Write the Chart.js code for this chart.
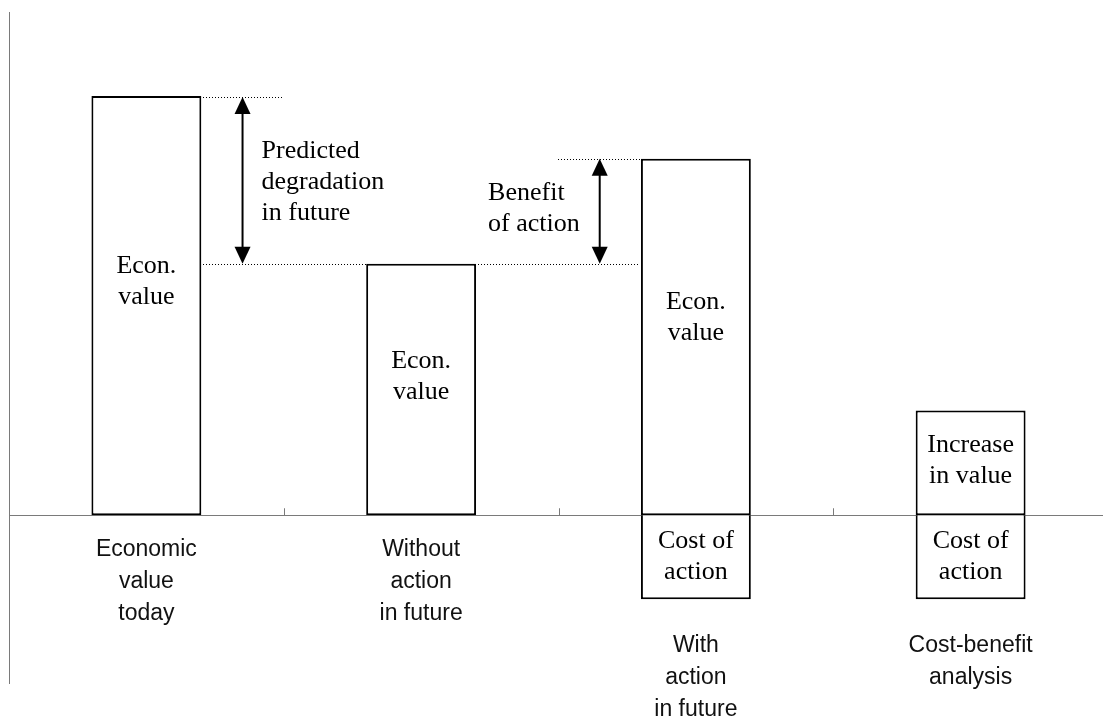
<!DOCTYPE html>
<html>
<head>
<meta charset="utf-8">
<script src="https://cdn.jsdelivr.net/npm/chart.js@4"></script>
<style>
  html, body { margin: 0; padding: 0; background: #fff; overflow: hidden; }
  #wrap { width: 1110px; height: 718px; position: relative; }
</style>
</head>
<body>
<div id="wrap"><canvas id="chart"></canvas></div>
<script>
// categories (blank lines push the last two labels below the cost boxes)
let categories = [
  ['Economic', 'value', 'today'],
  ['Without', 'action', 'in future'],
  ['', '', '', 'With', 'action', 'in future'],
  ['', '', '', 'Cost-benefit', 'analysis']
];

// series
let econValues = [10, 6, 8.5, 2.5];
let costValues = [null, null, -2, -2];

// text inside the boxes
let econText = [['Econ.', 'value'], ['Econ.', 'value'], ['Econ.', 'value'], ['Increase', 'in value']];
let costText = [null, null, ['Cost of', 'action'], ['Cost of', 'action']];

// annotation texts
let degradationText = ['Predicted', 'degradation', 'in future'];
let benefitText = ['Benefit', 'of action'];

let yMin = -4;
let yMax = 12;

const AXIS_GREY = '#7a7a7a';
const SERIF = '26px "Liberation Serif", "Times New Roman", serif';

//TEXT LINES, baselines spread around a centre
function drawLines(ctx, lines, x, mid, align) {
  ctx.textAlign = align;
  ctx.textBaseline = 'alphabetic';
  let n = lines.length;
  lines.forEach((line, i) => {
    ctx.fillText(line, x, mid + 6 + (i - (n - 1) / 2) * 31);
  });
}

//DOTTED LINE, one pixel dots
function dotted(ctx, x1, x2, y) {
  ctx.save();
  ctx.fillStyle = '#000';
  let py = Math.round(y);
  for (let px = Math.round(x1) + 2; px < x2 - 1; px += 3) {
    ctx.fillRect(px, py, 1, 1);
  }
  ctx.restore();
}

function arrow(ctx, x, yTop, yBot) {
  let head = 17, half = 8;
  ctx.save();
  ctx.strokeStyle = '#000';
  ctx.fillStyle = '#000';
  ctx.lineWidth = 2;
  ctx.beginPath();
  ctx.moveTo(x, yTop + head - 2);
  ctx.lineTo(x, yBot - head + 2);
  ctx.stroke();
  ctx.beginPath();
  ctx.moveTo(x, yTop);
  ctx.lineTo(x - half, yTop + head);
  ctx.lineTo(x + half, yTop + head);
  ctx.closePath();
  ctx.fill();
  ctx.beginPath();
  ctx.moveTo(x, yBot);
  ctx.lineTo(x - half, yBot - head);
  ctx.lineTo(x + half, yBot - head);
  ctx.closePath();
  ctx.fill();
  ctx.restore();
}

//EXTRAS: tick marks, box texts, arrows
const extras = {
  id: 'extras',
  afterDraw(chart) {
    let ctx = chart.ctx;
    let x = chart.scales.x;
    let y = chart.scales.y;
    let zero = y.getPixelForValue(0);
    let step = (x.right - x.left) / categories.length;

    // tick marks between categories, pointing up
    ctx.save();
    ctx.strokeStyle = AXIS_GREY;
    ctx.lineWidth = 1;
    for (let i = 0; i <= categories.length; i++) {
      let px = Math.round(x.left + i * step) + 0.5;
      ctx.beginPath();
      ctx.moveTo(px, zero - 7);
      ctx.lineTo(px, zero);
      ctx.stroke();
    }
    ctx.restore();

    let econBars = chart.getDatasetMeta(0).data;
    let costBars = chart.getDatasetMeta(1).data;

    ctx.save();
    ctx.fillStyle = '#000';
    ctx.font = SERIF;
    econBars.forEach((bar, i) => {
      let h = bar.base - bar.y;
      let mid = (bar.y + bar.base) / 2 + 6 - 0.07 * h;
      drawLines(ctx, econText[i], bar.x, mid, 'center');
    });
    costBars.forEach((bar, i) => {
      if (!costText[i]) return;
      let h = bar.y - bar.base;
      let mid = (bar.y + bar.base) / 2 + 6 - 0.07 * h;
      drawLines(ctx, costText[i], bar.x, mid, 'center');
    });
    ctx.restore();

    let w = econBars[0].width / 2;
    let b1 = econBars[0], b2 = econBars[1], b3 = econBars[2];
    let edge1 = x.left + step;
    let edge2 = x.left + 2 * step;

    // degradation between today and without action
    dotted(ctx, b1.x + w, edge1, b1.y + 1);
    dotted(ctx, b1.x + w, b2.x - w, b2.y);
    let ax1 = (b1.x + w + edge1) / 2;
    arrow(ctx, ax1, b1.y + 1, b2.y);

    // benefit between without and with action
    dotted(ctx, b2.x + w, b3.x - w, b2.y);
    dotted(ctx, edge2 - 3, b3.x - w, b3.y);
    let ax2 = (edge2 + b3.x - w) / 2;
    arrow(ctx, ax2, b3.y, b2.y);

    ctx.save();
    ctx.fillStyle = '#000';
    ctx.font = SERIF;
    drawLines(ctx, degradationText, ax1 + 19, (b1.y + b2.y) / 2 + 3, 'left');
    drawLines(ctx, benefitText, b2.x + w + 12, (b3.y + b2.y) / 2 - 2, 'left');
    ctx.restore();
  }
};

let config = {
  type: 'bar',
  data: {
    labels: categories,
    datasets: [{
      label: 'Economic value',
      data: econValues,
      backgroundColor: '#fff',
      borderColor: '#000',
      borderWidth: 2,
      borderSkipped: false
    }, {
      label: 'Cost of action',
      data: costValues,
      backgroundColor: '#fff',
      borderColor: '#000',
      borderWidth: 2,
      borderSkipped: 'start'
    }]
  },
  options: {
    responsive: true,
    maintainAspectRatio: false,
    animation: false,
    layout: {
      padding: { left: 9, right: 2, top: 12, bottom: 35 }
    },
    plugins: {
      legend: { display: false },
      tooltip: { enabled: false }
    },
    datasets: {
      bar: {
        categoryPercentage: 1,
        barPercentage: 0.4
      }
    },
    scales: {
      x: {
        stacked: true,
        position: { y: 0 },
        grid: { display: false, drawTicks: false },
        border: { display: true, color: AXIS_GREY, width: 1 },
        ticks: {
          color: '#111',
          padding: 18,
          maxRotation: 0,
          autoSkip: false,
          font: { family: '"Liberation Sans", Arial, sans-serif', size: 23, lineHeight: '32px' }
        }
      },
      y: {
        stacked: true,
        min: yMin,
        max: yMax,
        grid: { display: false, drawTicks: false },
        border: { display: true, color: AXIS_GREY, width: 1 },
        ticks: { display: false }
      }
    }
  },
  plugins: [extras]
};

let barChart = new Chart(document.getElementById('chart'), config);
</script>
</body>
</html>
